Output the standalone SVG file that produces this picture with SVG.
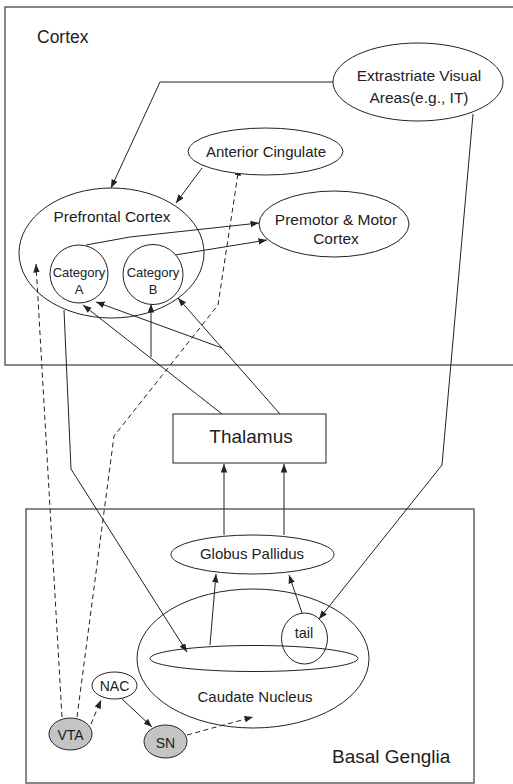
<svg xmlns="http://www.w3.org/2000/svg" width="513" height="784" viewBox="0 0 513 784">
<defs>
<marker id="arr" markerWidth="9" markerHeight="7" refX="8.5" refY="3.25" orient="auto" markerUnits="userSpaceOnUse">
<path d="M0,0 L8.5,3.25 L0,6.5 z" fill="#222"/>
</marker>
<style>
.box{fill:none;stroke:#555;stroke-width:1.4}
.node{fill:#fff;stroke:#222;stroke-width:1}
.open{fill:none;stroke:#222;stroke-width:1}
.gray{fill:#c4c4c4;stroke:#222;stroke-width:1}
.t{font-family:"Liberation Sans",Arial,sans-serif;fill:#222;text-anchor:middle}
.c{fill:none;stroke:#222;stroke-width:1}
.d{fill:none;stroke:#222;stroke-width:1;stroke-dasharray:5,3.5}
</style>
</defs>
<rect width="513" height="784" fill="#fff"/>

<g id="cortex-region">
<rect class="box" x="5" y="7" width="520" height="358"/>
<text class="t" x="37" y="43" font-size="17.5" style="text-anchor:start">Cortex</text>
</g>
<g id="basal-ganglia-region">
<rect class="box" x="26" y="509" width="448" height="274"/>
<text class="t" x="332" y="763" font-size="19" style="text-anchor:start">Basal Genglia</text>
</g>

<g id="connectors">
<polyline class="c" points="333,82 160,82 111,188" marker-end="url(#arr)"/>
<polyline class="c" points="473,114 442,465 319,619" marker-end="url(#arr)"/>
<line class="c" x1="202" y1="168" x2="176" y2="203" marker-end="url(#arr)"/>
<polyline class="d" points="77,717 114,436 218,305 239,167" marker-end="url(#arr)"/>
<line class="d" x1="62" y1="717" x2="36" y2="264" marker-end="url(#arr)"/>
<line class="d" x1="91" y1="724" x2="101" y2="700" marker-end="url(#arr)"/>
<line class="c" x1="122" y1="699" x2="152" y2="727" marker-end="url(#arr)"/>
<line class="d" x1="187" y1="735" x2="253" y2="717" marker-end="url(#arr)"/>
<polyline class="c" points="64,310 71,469 187,652" marker-end="url(#arr)"/>
<line class="c" x1="210" y1="645" x2="216" y2="574" marker-end="url(#arr)"/>
<line class="c" x1="302" y1="613" x2="289" y2="575" marker-end="url(#arr)"/>
<line class="c" x1="224" y1="535" x2="224" y2="464" marker-end="url(#arr)"/>
<line class="c" x1="284" y1="535" x2="284" y2="464" marker-end="url(#arr)"/>
<line class="c" x1="222" y1="414" x2="83" y2="305" marker-end="url(#arr)"/>
<line class="c" x1="280" y1="414" x2="178" y2="298" marker-end="url(#arr)"/>
<line class="c" x1="222" y1="348" x2="96" y2="302" marker-end="url(#arr)"/>
<line class="c" x1="151" y1="357" x2="151" y2="304" marker-end="url(#arr)"/>
<polyline class="c" points="86,245 130,237 259,223" marker-end="url(#arr)"/>
<line class="c" x1="175" y1="255" x2="267" y2="240" marker-end="url(#arr)"/>
</g>

<g id="extrastriate">
<ellipse class="node" cx="418" cy="82" rx="85" ry="39"/>
<text class="t" x="419" y="81" font-size="15.5">Extrastriate Visual</text>
<text class="t" x="419" y="103" font-size="15.5">Areas(e.g., IT)</text>
</g>
<g id="anterior-cingulate">
<ellipse class="node" cx="265.5" cy="151.5" rx="77.5" ry="23.5"/>
<text class="t" x="266" y="157" font-size="15">Anterior Cingulate</text>
</g>
<g id="prefrontal">
<ellipse class="open" cx="111.5" cy="253" rx="92.5" ry="65"/>
<text class="t" x="112" y="222" font-size="15.5">Prefrontal Cortex</text>
</g>
<g id="category-a">
<circle class="node" cx="79" cy="274" r="29"/>
<text class="t" x="79" y="277" font-size="13">Category</text>
<text class="t" x="79" y="294" font-size="13">A</text>
</g>
<g id="category-b">
<circle class="node" cx="153" cy="274.5" r="30"/>
<text class="t" x="153" y="277" font-size="13">Category</text>
<text class="t" x="153" y="294" font-size="13">B</text>
</g>
<g id="premotor">
<ellipse class="node" cx="334" cy="224" rx="75" ry="33"/>
<text class="t" x="336" y="225" font-size="15.5">Premotor &amp; Motor</text>
<text class="t" x="336" y="244" font-size="15.5">Cortex</text>
</g>
<g id="thalamus">
<rect class="node" x="173" y="414" width="153" height="49"/>
<text class="t" x="251" y="443" font-size="19">Thalamus</text>
</g>
<g id="globus-pallidus">
<ellipse class="node" cx="252.5" cy="554.5" rx="81.5" ry="19.5"/>
<text class="t" x="252" y="559" font-size="15">Globus Pallidus</text>
</g>
<g id="caudate">
<ellipse class="open" cx="253" cy="658.5" rx="116" ry="69.5"/>
<ellipse class="open" cx="254" cy="658.5" rx="104" ry="13"/>
<text class="t" x="255" y="702" font-size="15">Caudate Nucleus</text>
</g>
<g id="tail">
<ellipse class="open" cx="304.5" cy="638.5" rx="23" ry="25.5"/>
<text class="t" x="304" y="638" font-size="14.5">tail</text>
</g>
<g id="nac">
<ellipse class="node" cx="114.5" cy="685.5" rx="22.5" ry="13.5"/>
<text class="t" x="114.5" y="691" font-size="14">NAC</text>
</g>
<g id="vta">
<ellipse class="gray" cx="70.5" cy="734" rx="21.5" ry="16"/>
<text class="t" x="70.5" y="740" font-size="14">VTA</text>
</g>
<g id="sn">
<ellipse class="gray" cx="165.5" cy="741.5" rx="21.5" ry="16.5"/>
<text class="t" x="165.5" y="748" font-size="14">SN</text>
</g>
</svg>
